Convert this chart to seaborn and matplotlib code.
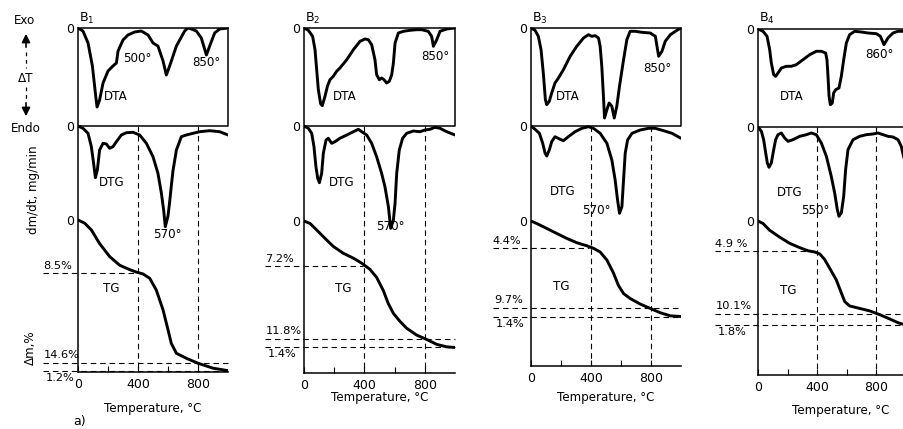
import numpy as np
import pandas as pd
import matplotlib
matplotlib.use("Agg")
import matplotlib.pyplot as plt
import seaborn as sns

# ---------------- data ----------------
panel_names = ["B$_1$", "B$_2$", "B$_3$", "B$_4$"]
x_ticks = [0, 400, 800]
x_tick_labels = ["0", "400", "800"]

# DTA deflection (arbitrary units, endo downward)
b1_dta_t = [0, 33, 67, 96, 118, 127, 144, 167, 200, 233, 256, 267, 300, 333, 378, 422, 467, 500, 533, 567,
            589, 611, 656, 711, 733, 756, 789, 822, 856, 878, 911, 944, 1000]
b1_dta = [0, 3, 15, 38, 68, 79, 72, 55, 43, 38, 35, 23, 12, 7, 4, 3, 7, 15, 18, 33,
          47, 38, 18, 3, 0, 1, 3, 10, 27, 18, 5, 1, 0]
b2_dta_t = [0, 29, 57, 73, 84, 95, 110, 121, 139, 155, 172, 194, 216, 238, 283, 327, 371, 404, 426, 448, 470,
            481, 499, 514, 530, 547, 565, 581, 592, 603, 625, 658, 702, 746, 779, 823, 845, 857, 879, 901, 945, 1000]
b2_dta = [0, 2.3, 8.3, 21.7, 41.7, 61.7, 75.7, 77.7, 68.3, 58.3, 51.7, 48.3, 43.3, 40, 31.7, 21.7, 13.3, 11, 11.7,
          16.7, 31.7, 46.7, 51.7, 50, 51.7, 55, 53.3, 46.7, 35, 15, 5, 3.3, 2.3, 1.7, 1.7, 3.3, 8.3, 18.3, 11.7,
          3.3, 1, 0]
b3_dta_t = [0, 27, 49, 67, 82, 96, 105, 122, 138, 160, 183, 216, 261, 305, 350, 383, 405, 428, 450, 461, 472,
            483, 490, 506, 521, 539, 555, 572, 590, 617, 639, 661, 695, 739, 795, 829, 840, 851, 873, 895, 929,
            973, 1000]
b3_dta = [0, 2.3, 8.3, 21.7, 45, 71.7, 76.7, 73.3, 65, 55, 50, 41.7, 28.3, 18.3, 10, 6.7, 8.3, 7.7, 10, 18.3,
          38.3, 68.3, 90, 81.7, 75, 78.3, 90, 78.3, 58.3, 31.7, 11.7, 3.3, 3.3, 4.3, 5, 8.3, 18.3, 28.3, 23.3,
          13.3, 6.7, 2.3, 0]
b4_dta_t = [0, 34, 61, 79, 90, 106, 119, 135, 158, 191, 225, 259, 304, 349, 394, 428, 457, 466, 473, 480, 489,
            502, 511, 525, 547, 563, 579, 597, 619, 653, 698, 743, 800, 827, 851, 878, 912, 946, 1000]
b4_dta = [0, 2.3, 7.3, 20.7, 34, 45.7, 47.3, 44, 39, 37.3, 37.3, 35.7, 30.7, 25.7, 22.3, 22.3, 24, 30.7, 47.3,
          67.3, 75.7, 74, 64, 60.7, 59, 47.3, 30.7, 14, 5.7, 2.3, 3, 4, 4.7, 7.3, 15.7, 9, 4, 2.3, 2.3]

# DTG deflection (mg/min, arbitrary scale, downward)
b1_dtg_t = [0, 33, 67, 89, 104, 116, 129, 144, 167, 189, 211, 233, 256, 289, 322, 367, 411, 456, 500, 533, 556,
            571, 582, 600, 611, 622, 633, 656, 689, 722, 767, 811, 878, 944, 1000]
b1_dtg = [0, 2.3, 7.3, 20.7, 37.3, 51.7, 44, 24, 17.3, 18, 22.3, 20.7, 15.7, 9, 6.7, 6.3, 9, 17.3, 30.7, 47.3,
          67.3, 84, 100.7, 90, 76, 60, 45, 24, 10.7, 9, 7.3, 5.7, 4.7, 5.7, 9]
b2_dtg_t = [0, 29, 51, 66, 79, 91, 102, 117, 128, 146, 161, 183, 205, 238, 283, 327, 360, 382, 415, 448, 481,
            514, 536, 559, 574, 592, 603, 614, 631, 653, 680, 724, 768, 801, 834, 868, 901, 945, 1000]
b2_dtg = [0, 2.3, 7.3, 20.7, 40.7, 52.3, 56.7, 47.3, 27.3, 14, 12.3, 17.3, 15.7, 12.3, 9, 5.7, 3.3, 5.7, 9,
          17.3, 30.7, 47.3, 60.7, 80.7, 102.3, 94, 77.3, 47.3, 24, 12.3, 7.3, 5, 5.7, 4, 3.3, 1.3, 2.3, 5.7, 9]
b3_dtg_t = [0, 27, 56, 78, 94, 105, 122, 138, 160, 194, 216, 249, 294, 339, 383, 416, 461, 506, 539, 561, 577,
            590, 606, 617, 628, 644, 673, 728, 784, 828, 884, 940, 1000]
b3_dtg = [0, 3.3, 7.3, 17.3, 27.3, 30, 24, 15.7, 10.7, 13.3, 14.7, 10.7, 5.7, 2.3, 0.7, 2.3, 7.3, 17.3, 34,
          54, 74, 87.3, 80.7, 54, 27.3, 14, 7.3, 4, 2.3, 2.3, 4.7, 7.3, 12.3]
b4_dtg_t = [0, 23, 38, 52, 63, 74, 90, 106, 119, 135, 158, 180, 203, 236, 282, 327, 360, 394, 428, 462, 495,
            518, 536, 547, 563, 579, 592, 608, 642, 687, 732, 777, 811, 845, 878, 912, 946, 968, 1000]
b4_dtg = [0, 4.3, 12.7, 26, 36, 40.3, 36, 22.7, 12.7, 7.7, 6, 11, 14.3, 12.7, 9.3, 7.7, 6, 7.7, 16, 29.3,
          49.3, 66, 82.7, 89.3, 86, 69.3, 42.7, 22.7, 12.7, 9.3, 7.7, 7, 6, 7.7, 9.3, 10, 12.7, 19.3, 40]

# TG mass loss, %
b1_tg_t = [0, 44, 89, 144, 211, 278, 344, 389, 433, 478, 522, 567, 600, 622, 656, 722, 800, 900, 1000]
b1_tg = [0, 0.5, 1.6, 3.8, 5.9, 7.3, 8.0, 8.4, 8.7, 9.4, 11.3, 14.5, 17.7, 19.9, 21.5, 22.3, 23.1, 23.9, 24.3]
b2_tg_t = [0, 40, 84, 139, 194, 260, 327, 382, 404, 437, 481, 525, 558, 592, 636, 680, 746, 812, 879, 945, 1000]
b2_tg = [0, 0.4, 1.45, 2.8, 4.1, 5.2, 6.0, 6.8, 7.2, 7.8, 9.1, 11.2, 13.3, 14.9, 16.2, 17.3, 18.4, 19.1, 19.9,
         20.3, 20.4]
b3_tg_t = [0, 38, 105, 171, 238, 305, 372, 416, 461, 506, 550, 583, 617, 661, 728, 795, 862, 929, 1000]
b3_tg = [0, 0.4, 1.2, 2.0, 2.8, 3.5, 4.0, 4.4, 5.0, 6.3, 8.4, 10.4, 11.7, 12.5, 13.4, 14.1, 14.8, 15.3, 15.4]
b4_tg_t = [0, 34, 79, 146, 214, 282, 338, 383, 417, 450, 484, 529, 563, 586, 619, 687, 755, 822, 890, 946, 1000]
b4_tg = [0, 0.4, 1.5, 2.6, 3.6, 4.3, 4.8, 5.0, 5.3, 6.2, 7.6, 9.5, 11.6, 13.0, 13.7, 14.1, 14.5, 15.1, 15.8,
         16.4, 16.8]

# stepwise mass losses written on the TG curves (0-400, 400-800, 800-1000 C)
b1_steps = [8.5, 14.6, 1.2]
b2_steps = [7.2, 11.8, 1.4]
b3_steps = [4.4, 9.7, 1.4]
b4_steps = [4.9, 10.1, 1.8]
b1_step_labels = ["8.5%", "14.6%", "1.2%"]
b2_step_labels = ["7.2%", "11.8%", "1.4%"]
b3_step_labels = ["4.4%", "9.7%", "1.4%"]
b4_step_labels = ["4.9 %", "10.1%", "1.8%"]

# peak temperature labels
b1_peaks = ["500°", "850°", "570°"]
b2_peaks = ["850°", "570°"]
b3_peaks = ["850°", "570°"]
b4_peaks = ["860°", "550°"]

# ---------------- figure ----------------
sns.set_theme(style="white")
plt.rcParams["font.family"] = ["DejaVu Sans"]
W, H = 904, 429
fig = plt.figure(figsize=(W / 100, H / 100), dpi=100)
fig.patch.set_facecolor("white")

def ftext(x, y, s, ha="center", va="center", size=8.6, **kw):
    fig.text(x / W, 1 - y / H, s, ha=ha, va=va, fontsize=size, color="black", **kw)

TGS = 6.2  # px per % of mass loss
# panel geometry in pixels: left, right(1000C), top, dtg zero, tg zero, bottom
geo = [
    dict(l=78, r=228, t=28, d=126, g=220, b=372, xs=43, tl=408),
    dict(l=304, r=455, t=28, d=126, g=221, b=373, xs=265, tl=397),
    dict(l=531, r=681, t=28, d=126, g=221, b=366, xs=493, tl=397),
    dict(l=758, r=906, t=29, d=127, g=221, b=375, xs=715, tl=410),
]
data = [
    (b1_dta_t, b1_dta, b1_dtg_t, b1_dtg, b1_tg_t, b1_tg, b1_steps, b1_step_labels),
    (b2_dta_t, b2_dta, b2_dtg_t, b2_dtg, b2_tg_t, b2_tg, b2_steps, b2_step_labels),
    (b3_dta_t, b3_dta, b3_dtg_t, b3_dtg, b3_tg_t, b3_tg, b3_steps, b3_step_labels),
    (b4_dta_t, b4_dta, b4_dtg_t, b4_dtg, b4_tg_t, b4_tg, b4_steps, b4_step_labels),
]
dash = (0, (5, 3.5))

for i, (g, dd) in enumerate(zip(geo, data)):
    dta_t, dta, dtg_t, dtg, tg_t, tg, steps, step_labels = dd
    ax = fig.add_axes([g["l"] / W, 1 - g["b"] / H, (g["r"] - g["l"]) / W, (g["b"] - g["t"]) / H])
    ax.set_facecolor("none")
    ybot = g["b"] - g["t"]
    doff = g["d"] - g["t"]
    goff = g["g"] - g["t"]
    frames = [
        pd.DataFrame({"T": dta_t, "y": np.array(dta, float), "c": "DTA"}),
        pd.DataFrame({"T": dtg_t, "y": doff + np.array(dtg, float), "c": "DTG"}),
        pd.DataFrame({"T": tg_t, "y": goff + TGS * np.array(tg, float), "c": "TG"}),
    ]
    for f in frames:
        sns.lineplot(data=f, x="T", y="y", ax=ax, color="black", lw=2.1, estimator=None, sort=False,
                     solid_joinstyle="round", solid_capstyle="round")
    ax.set_xlim(0, 1000)
    ax.set_ylim(ybot, 0)
    for s in ["top", "left", "bottom"]:
        ax.spines[s].set_visible(True)
        ax.spines[s].set_color("black")
        ax.spines[s].set_linewidth(1.1)
    ax.spines["right"].set_visible(False)
    ax.plot([1000, 1000], [0, doff], color="black", lw=1.1, clip_on=False)
    ax.axhline(doff, color="black", lw=1.1)
    # vertical guides at 400 and 800 C
    ax.vlines([400, 800], doff, ybot, colors="black", lw=0.8, linestyles=[dash])
    # TG step lines
    cum = np.cumsum(steps)
    xstart = (g["xs"] - g["l"]) / (g["r"] - g["l"]) * 1000
    for k, c in enumerate(cum):
        xe = 390 if k == 0 else 1000
        ax.plot([xstart, xe], [goff + TGS * c] * 2, color="black", lw=0.8, ls=dash, clip_on=False)
    ax.set_xticks(x_ticks)
    ax.set_xticklabels(x_tick_labels)
    ax.set_xticks([200, 600], minor=True)
    ax.tick_params(axis="x", which="both", direction="in", length=4, width=0.8, colors="black",
                   labelsize=9, pad=4, bottom=True)
    ax.set_yticks([0, doff, goff])
    ax.set_yticklabels(["0", "0", "0"])
    ax.tick_params(axis="y", length=0, pad=3, labelsize=9, colors="black", left=True)
    ax.set_xlabel("Temperature, °C", fontsize=8.6, color="black")
    ax.set_ylabel("")
    ax.xaxis.set_label_coords(0.5 if i < 3 else 0.56, -(g["tl"] - g["b"] - 6) / ybot)
    ax.grid(False)
    ftext(g["l"] + 1, 18, "$\\mathregular{" + panel_names[i].replace("$", "").replace("_", "_") + "}$",
          ha="left", size=9)
    # TG step labels
    ftext(g["xs"], g["g"] + TGS * cum[0] - 7, step_labels[0], ha="left", size=8.2)
    ftext(g["xs"] + 1, g["g"] + TGS * cum[1] - 8, step_labels[1], ha="left", size=8.2)
    ftext(g["xs"] + 3, g["g"] + TGS * cum[2] + 7, step_labels[2], ha="left", size=8.2)

# curve labels
ftext(137, 58, b1_peaks[0]); ftext(116, 97, "DTA"); ftext(206, 63, b1_peaks[1])
ftext(112, 183, "DTG"); ftext(167, 235, b1_peaks[2]); ftext(111, 288, "TG")
ftext(435, 57, b2_peaks[0]); ftext(345, 97, "DTA"); ftext(342, 182, "DTG")
ftext(390, 227, b2_peaks[1]); ftext(343, 288, "TG")
ftext(657, 68, b3_peaks[0]); ftext(568, 97, "DTA"); ftext(563, 192, "DTG")
ftext(596, 210, b3_peaks[1]); ftext(561, 287, "TG")
ftext(879, 55, b4_peaks[0]); ftext(792, 97, "DTA"); ftext(790, 193, "DTG")
ftext(815, 211, b4_peaks[1]); ftext(788, 290, "TG")

# left-hand annotations
ftext(25, 20, "Exo", size=8.6)
ftext(26, 78, "ΔT", size=8.6)
ftext(26, 128, "Endo", size=8.6)
def fp(x, y):
    return (x / W, 1 - y / H)
fig.add_artist(matplotlib.patches.FancyArrowPatch(fp(26, 50), fp(26, 31), arrowstyle="-|>,head_length=5,head_width=2.5",
                                                  color="black", lw=1.2, transform=fig.transFigure))
fig.add_artist(matplotlib.lines.Line2D([26 / W] * 2, [1 - 52 / H, 1 - 68 / H], color="black", lw=0.9,
                                       ls=(0, (3, 3)), transform=fig.transFigure))
fig.add_artist(matplotlib.lines.Line2D([26 / W] * 2, [1 - 87 / H, 1 - 100 / H], color="black", lw=0.9,
                                       ls=(0, (3, 3)), transform=fig.transFigure))
fig.add_artist(matplotlib.patches.FancyArrowPatch(fp(26, 100), fp(26, 119), arrowstyle="-|>,head_length=5,head_width=2.5",
                                                  color="black", lw=1.2, transform=fig.transFigure))
ftext(33, 190, "dm/dt, mg/min", rotation=90, size=8.6)
ftext(30, 348, "Δm,%", rotation=90, size=8.6)
ftext(80, 421, "a)", size=9)

fig.savefig("out.png", dpi=100, facecolor="white")
